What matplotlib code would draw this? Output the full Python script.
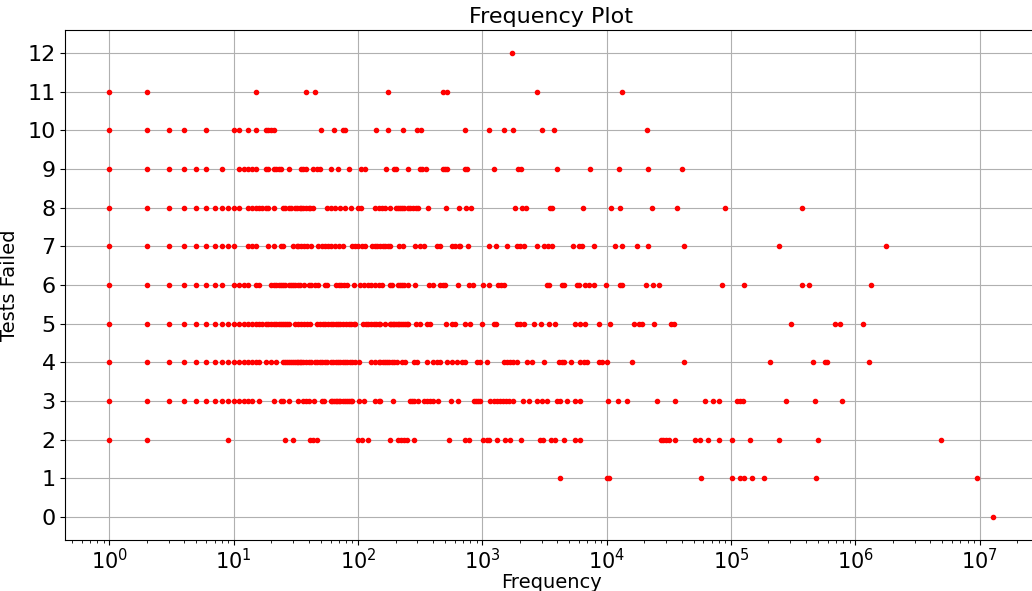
import matplotlib.pyplot as plt

# observed frequencies for each number of failed tests
fails_12 = [1727]
fails_11 = [1, 2, 15, 38, 45, 175, 480, 520, 2760, 13300]
fails_10 = [1, 2, 3, 4, 6, 10, 11, 13, 15, 18, 19, 20, 21, 50, 64, 75, 78, 140, 173,
            229, 300, 322, 727, 1127, 1490, 1746, 3010, 3780, 21000]
fails_9 = [1, 2, 3, 4, 5, 6, 8, 11, 12, 13, 14, 15, 18, 19, 21, 22, 23, 24, 28, 35, 36,
           38, 43, 47, 49, 61, 69, 84, 105, 114, 167, 193, 200, 254, 312, 326, 351, 481,
           502, 518, 727, 750, 1245, 1950, 2040, 3970, 7270, 12450, 21400, 40400]
fails_8 = [1, 2, 3, 4, 5, 6, 7, 8, 9, 10, 11, 13, 14, 15, 16, 17, 18, 19, 21, 25, 26,
           28, 29, 31, 32, 34, 35, 36, 38, 40, 41, 43, 56, 60, 65, 72, 79, 88, 100, 106,
           137, 146, 155, 165, 181, 202, 210, 218, 225, 232, 250, 262, 278, 290, 306,
           364, 509, 647, 741, 813, 1825, 2066, 2221, 3467, 3622, 6470, 10740, 12840,
           23080, 36700, 89300, 369000]
fails_7 = [1, 2, 3, 4, 5, 6, 7, 8, 9, 10, 13, 14, 15, 19, 21, 24, 25, 30, 32, 33, 35, 37,
           39, 42, 48, 51, 54, 57, 61, 65, 70, 76, 89, 95, 100, 107, 114, 129, 136, 143,
           150, 158, 165, 173, 181, 215, 229, 288, 316, 336, 430, 458, 568, 604, 643,
           663, 759, 1140, 1275, 1574, 1895, 1990, 2170, 2760, 3100, 3400, 3620, 5380,
           5930, 6310, 7830, 11560, 13250, 17500, 21300, 41800, 241000, 1770000]
fails_6 = [1, 2, 3, 4, 5, 6, 7, 8, 10, 11, 12, 13, 15, 16, 20, 21, 22, 23, 24, 25, 26,
           28, 29, 30, 31, 33, 34, 37, 40, 42, 45, 48, 54, 56, 67, 70, 73, 77, 81, 92,
           104, 112, 120, 128, 137, 146, 155, 181, 187, 211, 218, 225, 232, 254, 288,
           375, 400, 458, 481, 502, 635, 773, 839, 1002, 1135, 1330, 1410, 1500, 3300,
           3445, 4360, 4490, 5750, 6010, 6710, 7230, 7830, 9910, 12850, 13250, 20650,
           23500, 26300, 84500, 127000, 369000, 420000, 1330000]
fails_5 = [1, 2, 3, 4, 5, 6, 7, 8, 9, 10, 11, 12, 13, 14, 15, 16, 17, 18, 19, 20, 21, 22,
           23, 24, 25, 26, 27, 28, 31, 33, 35, 37, 39, 41, 47, 49, 52, 54, 57, 60, 63,
           66, 69, 72, 76, 80, 84, 88, 92, 95, 109, 115, 121, 128, 134, 140, 146, 151,
           165, 179, 184, 190, 196, 202, 208, 215, 222, 230, 238, 246, 254, 294, 312,
           357, 380, 512, 568, 604, 727, 798, 996, 1228, 1284, 1915, 2015, 2180, 2576,
           2950, 3445, 3850, 5580, 6120, 6630, 8590, 10540, 16440, 18030, 19200, 23800,
           33000, 34500, 301000, 689000, 746000, 1160000]
fails_4 = [1, 2, 3, 4, 5, 6, 7, 8, 9, 10, 11, 12, 13, 14, 15, 16, 18, 20, 22, 25, 26, 27,
           28, 29, 30, 31, 32, 33, 34, 35, 36, 38, 40, 42, 45, 47, 49, 51, 54, 56, 60,
           63, 66, 69, 72, 75, 78, 82, 86, 90, 95, 101, 127, 137, 146, 151, 158, 165,
           172, 178, 188, 196, 205, 225, 239, 279, 300, 357, 404, 430, 458, 518, 568,
           624, 684, 727, 903, 960, 1087, 1479, 1574, 1674, 1778, 1895, 2280, 2500,
           3100, 4100, 4360, 4490, 5180, 6120, 6510, 6930, 8710, 9150, 10020, 15950,
           42000, 206000, 456000, 573000, 590000, 1285000]
fails_3 = [1, 2, 3, 4, 5, 6, 7, 8, 9, 10, 11, 12, 13, 14, 16, 21, 24, 25, 28, 33, 36, 38,
           40, 44, 51, 53, 60, 62, 64, 66, 68, 70, 72, 75, 78, 81, 84, 87, 90, 102, 111,
           137, 146, 151, 190, 262, 271, 279, 306, 336, 357, 380, 404, 438, 557, 635,
           848, 880, 920, 960, 1155, 1230, 1300, 1380, 1460, 1550, 1650, 1778, 2140,
           2350, 2740, 3010, 3300, 3970, 4230, 4780, 5580, 6120, 10230, 12210, 14690,
           25350, 35560, 62000, 71000, 79300, 112700, 118600, 123800, 278000, 470000,
           780000]
fails_2 = [1, 2, 9, 26, 30, 41, 43, 47, 100, 107, 121, 179, 211, 221, 232, 247, 284, 541,
           727, 773, 1002, 1087, 1120, 1308, 1506, 1674, 2040, 2915, 3068, 3556, 3850,
           4550, 5510, 6040, 27400, 28600, 30100, 31400, 35600, 51400, 56500, 65200,
           79300, 101600, 141000, 245000, 500000, 4930000]
fails_1 = [4170, 10020, 10420, 57300, 101600, 118600, 126000, 147000, 182500, 484000,
           9500000]
fails_0 = [12900000]

rows = [fails_0, fails_1, fails_2, fails_3, fails_4, fails_5, fails_6,
        fails_7, fails_8, fails_9, fails_10, fails_11, fails_12]

freq = []
failed = []
for n, vals in enumerate(rows):
    freq += vals
    failed += [n] * len(vals)

fig = plt.figure(figsize=(10.32, 5.91), dpi=100)
ax = fig.add_axes([65.3 / 1032, 51 / 591, 972.3 / 1032, 510 / 591])
ax.plot(freq, failed, 'r.', markersize=6)
ax.set_xscale('log')
ax.set_yticks(range(0, 13))
ax.grid(True)
ax.set_title("Frequency Plot", fontsize=16, pad=5)
ax.set_xlabel("Frequency", fontsize=14, labelpad=0)
ax.set_ylabel("Tests Failed", fontsize=14, labelpad=6)
ax.tick_params(axis='y', labelsize=16)
ax.tick_params(axis='x', labelsize=15, pad=2)

fig.savefig("out.png", dpi=100)
